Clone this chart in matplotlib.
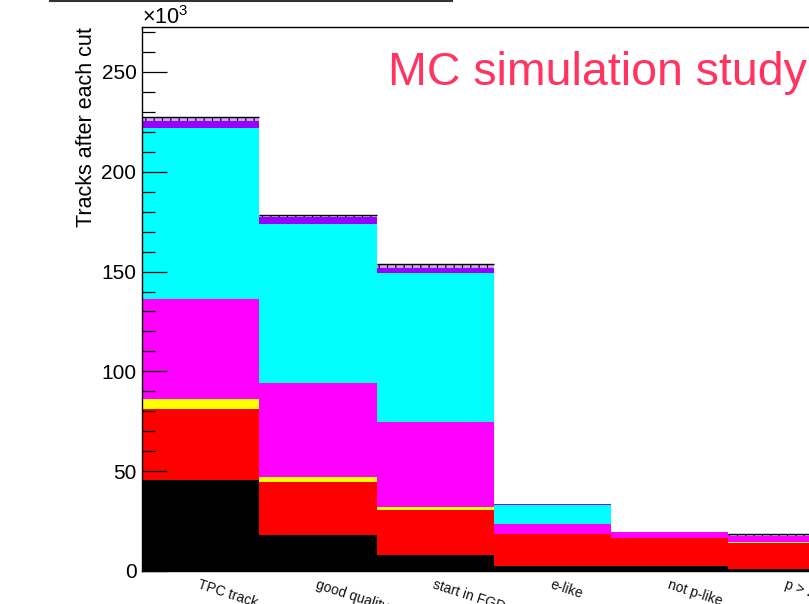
import numpy as np
import matplotlib
matplotlib.use("Agg")
import matplotlib.pyplot as plt
from matplotlib.lines import Line2D

plt.rcParams['font.family'] = ['Liberation Sans', 'DejaVu Sans']
plt.rcParams['mathtext.fontset'] = 'custom'
plt.rcParams['mathtext.rm'] = 'Liberation Sans'
plt.rcParams['mathtext.it'] = 'Liberation Sans:italic'
plt.rcParams['hatch.color'] = 'black'
plt.rcParams['hatch.linewidth'] = 0.8

# ---- data (thousands of tracks) ----
categories = ["TPC track", "good quality", "start in FGD", "e-like", "not p-like", "p > 200 MeV/c"]
black_vals   = [45.6, 18.0,  8.0,  2.4,  2.5,  0.8]
red_vals     = [35.4, 26.7, 22.5, 16.0, 13.9, 13.1]
yellow_vals  = [ 5.0,  2.3,  1.5,  0.2,  0.1,  0.8]
magenta_vals = [50.5, 47.0, 42.5,  4.8,  2.9,  2.8]
cyan_vals    = [85.5, 79.8, 74.6,  9.6,  0.0,  0.0]
purple_vals  = [ 3.6,  3.4,  2.9,  0.5,  0.3,  0.1]
error_vals   = [ 1.7,  1.3,  1.7,  0.0,  0.0,  0.8]

series = [black_vals, red_vals, yellow_vals, magenta_vals, cyan_vals, purple_vals]
colors = ['#000000', '#ff0000', '#ffff00', '#ff00ff', '#00ffff', '#9900ff']

fig = plt.figure(figsize=(8.09, 6.04), dpi=100)
ax = fig.add_axes([142/809, 33/604, 703.8/809, 544/604])

x = np.arange(len(categories))
bottom = np.zeros(len(categories))
for vals, c in zip(series, colors):
    v = np.array(vals)
    ax.bar(x, v, width=1.0, bottom=bottom, align='edge', color=c, linewidth=0)
    bottom = bottom + v

err = np.array(error_vals)
ax.bar(x, err, width=1.0, bottom=bottom, align='edge', color='#caa6ee',
       linewidth=0, hatch='||')
tops = bottom + err
has_err = err > 0
ax.hlines(tops[has_err], x[has_err], x[has_err] + 1, color='black', lw=1.0)

ax.set_xlim(0, len(categories))
ax.set_ylim(0, 272.5)

ax.set_yticks(np.arange(0, 251, 50))
ax.set_yticks(np.arange(0, 271, 10), minor=True)
ax.tick_params(axis='y', which='major', direction='in', length=18, width=0.9,
               labelsize=15, pad=4)
ax.tick_params(axis='y', which='minor', direction='in', length=9, width=0.9)
ax.tick_params(axis='x', which='both', length=0, labelbottom=False)

for xi, lab in zip(x, categories):
    ax.annotate(lab, xy=(xi + 0.5, 0), xycoords='data', xytext=(0, -5),
                textcoords='offset points', rotation=-18, rotation_mode='anchor',
                ha='left', va='top', fontsize=10, color='#111111',
                annotation_clip=False)

for s in ['left', 'top', 'bottom', 'right']:
    ax.spines[s].set_linewidth(1.0)
    ax.spines[s].set_color('black')

ax.set_ylabel("Tracks after each cut", fontsize=15.5, loc='top', labelpad=3)

ax.text(0, 1.0055, "×10$^{3}$", transform=ax.transAxes, fontsize=15.5,
        ha='left', va='baseline')

ax.text(0.3495, 0.893, "MC simulation study", transform=ax.transAxes,
        fontsize=33.5, color='#ff3461', ha='left', va='baseline')

fig.add_artist(Line2D([50/809, 452/809], [1 - 0.8/604, 1 - 0.8/604],
                      transform=fig.transFigure, color='#333333', lw=1.5))

fig.savefig("out.png", dpi=100)
